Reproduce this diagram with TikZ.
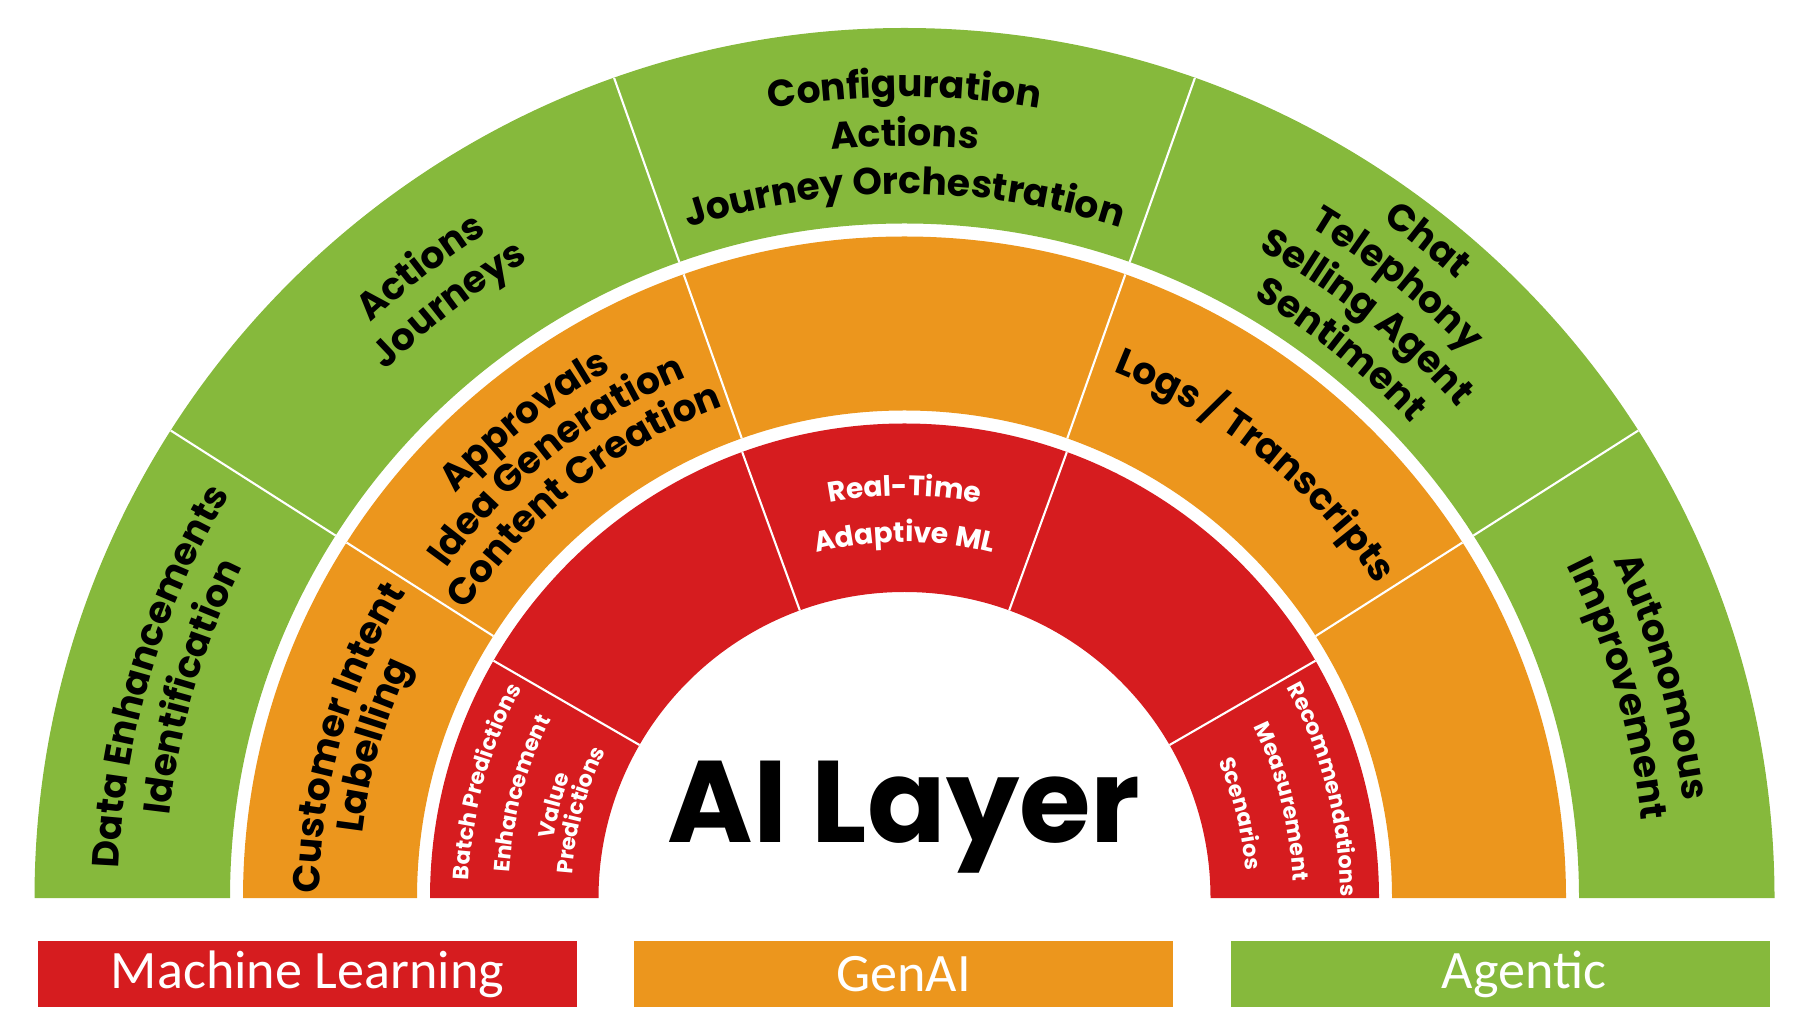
\documentclass[tikz,border=0pt]{standalone}
\usepackage{fontspec}
\setmainfont{Poppins}
\newfontfamily\legfont{Carlito}
\usetikzlibrary{decorations.text}
\definecolor{agreen}{RGB}{134,185,60}
\definecolor{gorange}{RGB}{236,150,29}
\definecolor{mlred}{RGB}{214,28,31}
\newcommand\labA{\fontsize{10.7}{12}\selectfont\bfseries}
\newcommand\labB{\fontsize{8}{9}\selectfont\bfseries}
\newcommand\labC{\fontsize{6.3}{7}\selectfont\bfseries}
\newcommand\arclabel[5][black]{%
  \path[decorate, decoration={text along path, text align=center, text color=#1, text={|#4|#5}}]
    ([shift={({#3+40}:#2)}]C) arc[start angle={#3+40}, end angle={#3-40}, radius=#2];}
\tikzset{
  divline/.style={draw=white, line width=0.6pt},
  legbox/.style={minimum width=5.39cm, minimum height=0.66cm, inner sep=0pt, text=white,
    font=\legfont\fontsize{15.4}{17}\selectfont}
}
\begin{document}
\begin{tikzpicture}[x=0.01cm,y=0.01cm]
\useasboundingbox (0,0) rectangle (1800,1024);
\coordinate (C) at (904.5,126);
% rings
\foreach \ri/\ro/\col in {674.5/870/agreen, 487.5/661.5/gorange, 306/474.5/mlred}{
  \fill[fill=\col] ([shift={(0:\ro)}]C) arc[start angle=0,end angle=180,radius=\ro]
     -- ([shift={(180:\ri)}]C) arc[start angle=180,end angle=0,radius=\ri] -- cycle;}
% dividers
\foreach \a in {32.5,70.5,109.5,147.5}{
  \draw[divline] ([shift={(\a:674.5)}]C) -- ([shift={(\a:870)}]C);
  \draw[divline] ([shift={(\a:487.5)}]C) -- ([shift={(\a:661.5)}]C);}
\foreach \a in {30,70,110,150}{
  \draw[divline] ([shift={(\a:306)}]C) -- ([shift={(\a:474.5)}]C);}
% green labels
\arclabel{786}{163.5}{\labA}{Data Enhancements}
\arclabel{740}{163.5}{\labA}{Identification}
\arclabel{785}{127.5}{\labA}{Actions}
\arclabel{740}{127.5}{\labA}{Journeys}
\arclabel{801}{90}{\labA}{Configuration}
\arclabel{752}{90}{\labA}{Actions}
\arclabel{704}{90}{\labA}{Journey Orchestration}
\arclabel{829}{51.5}{\labA}{Chat}
\arclabel{784}{51.5}{\labA}{Telephony}
\arclabel{739}{51.5}{\labA}{Selling Agent}
\arclabel{694}{51.5}{\labA}{Sentiment}
\arclabel{785}{16.3}{\labA}{Autonomous}
\arclabel{741}{16.3}{\labA}{Improvement}
% orange labels
\arclabel{585}{164}{\labA}{Customer Intent}
\arclabel{546}{164}{\labA}{Labelling}
\arclabel{604}{128.5}{\labA}{Approvals}
\arclabel{564}{128.5}{\labA}{Idea Generation}
\arclabel{524}{128.5}{\labA}{Content Creation}
\arclabel{566}{51}{\labA}{Logs / Transcripts}
% red labels
\arclabel[white]{402}{90}{\labB}{Real-Time}
\arclabel[white]{356}{90}{\labB}{Adaptive ML}
\arclabel[white]{436}{164.5}{\labC}{Batch Predictions}
\arclabel[white]{396}{164.8}{\labC}{Enhancement}
\arclabel[white]{356}{165.2}{\labC}{Value}
\arclabel[white]{333}{164.9}{\labC}{Predictions}
\arclabel[white]{436}{14.5}{\labC}{Recommendations}
\arclabel[white]{389}{14.3}{\labC}{Measurement}
\arclabel[white]{342}{14.1}{\labC}{Scenarios}
% title
\node[font=\fontsize{33}{36}\selectfont\bfseries, anchor=base, inner sep=0pt] (title) at (904,182) {AI Layer};
% legend
\node[legbox, fill=mlred] (ml) at (307.5,50) {Machine Learning};
\node[legbox, fill=gorange] (genai) at (903.5,50) {GenAI};
\node[legbox, fill=agreen] (agentic) at (1500.5,50) {};
\node[text=white, font=\legfont\fontsize{15.4}{17}\selectfont, inner sep=0pt] (agentictext) at (1524,50) {Agentic};
\end{tikzpicture}
\end{document}
